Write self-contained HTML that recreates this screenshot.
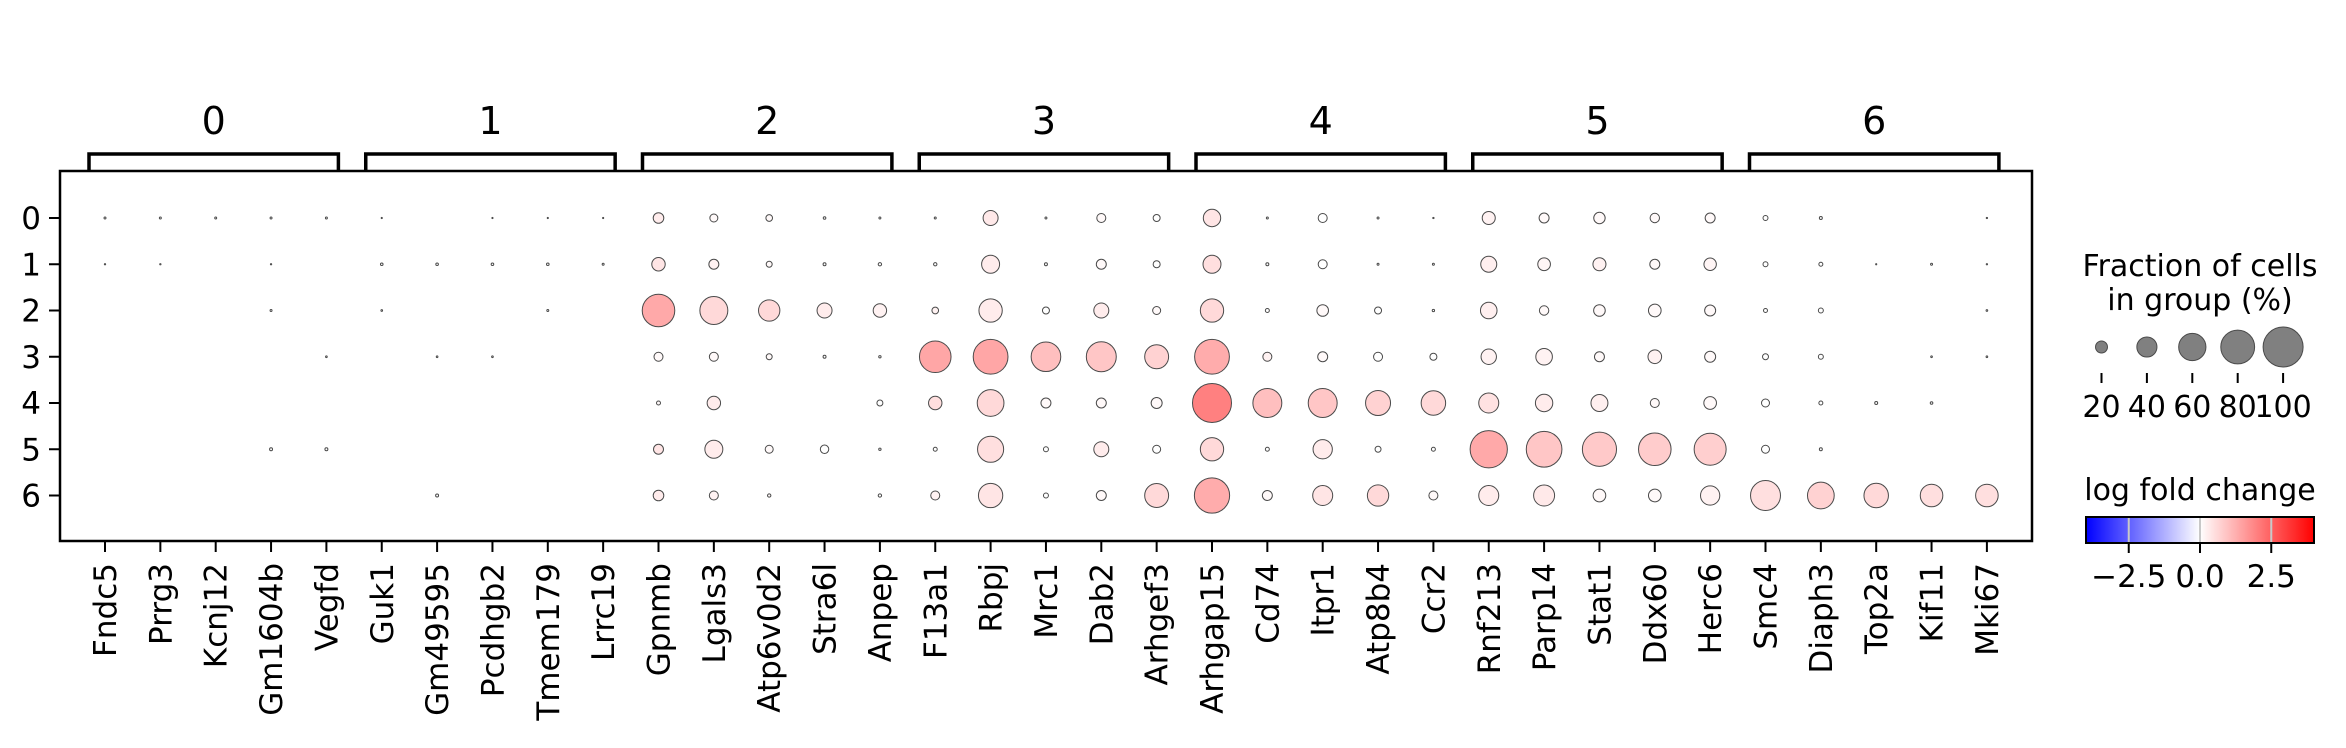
<!DOCTYPE html>
<html><head><meta charset="utf-8">
<style>
html,body{margin:0;padding:0;background:#fff;}
svg{display:block;font-family:"DejaVu Sans","Liberation Sans",sans-serif;}
</style></head>
<body>
<svg id="chart" width="2346" height="748" viewBox="0 0 2346 748" xmlns="http://www.w3.org/2000/svg">
  <defs>
    <linearGradient id="bwr" x1="0" x2="1" y1="0" y2="0">
      <stop offset="0" stop-color="#0000ff"/>
      <stop offset="0.5" stop-color="#ffffff"/>
      <stop offset="1" stop-color="#ff0000"/>
    </linearGradient>
  </defs>
  <g id="brackets"></g>
  <g id="dots"></g>
  <rect x="60" y="171" width="1972" height="370" fill="none" stroke="#000" stroke-width="2.5"/>
  <g id="yaxis"></g>
  <g id="xaxis"></g>
  <g id="size-legend">
    <text x="2200" y="276" font-size="30" text-anchor="middle">Fraction of cells</text>
    <text x="2200" y="310" font-size="30" text-anchor="middle">in group (%)</text>
  </g>
  <g id="color-legend">
    <text x="2200" y="500" font-size="30" text-anchor="middle">log fold change</text>
    <rect x="2086" y="517" width="228" height="26" fill="url(#bwr)" stroke="#000" stroke-width="2"/>
  </g>
</svg>
<script>
const genes = ["Fndc5","Prrg3","Kcnj12","Gm1604b","Vegfd","Guk1","Gm49595","Pcdhgb2","Tmem179","Lrrc19","Gpnmb","Lgals3","Atp6v0d2","Stra6l","Anpep","F13a1","Rbpj","Mrc1","Dab2","Arhgef3","Arhgap15","Cd74","Itpr1","Atp8b4","Ccr2","Rnf213","Parp14","Stat1","Ddx60","Herc6","Smc4","Diaph3","Top2a","Kif11","Mki67"];
const groups = ["0","1","2","3","4","5","6"];
const fraction = [
 [1.8,1.1,0,0,0,0,0],[1.8,1.1,0,0,0,0,0],[1.8,0,0,0,0,0,0],[1.8,1.1,1.8,0,0,3.1,0],[1.8,0,0,1.4,0,3.1,0],
 [0.9,2.6,1.4,0,0,0,0],[0,2.6,0,1.4,0,0,3.1],[0.9,2.6,0,1.4,0,0,0],[0.9,2.6,1.8,0,0,0,0],[0.9,1.8,0,0,0,0,0],
 [17,23.3,76,13.7,4.6,15.7,17],[11.7,15.7,62,13.7,23.3,34.4,13.7],[9.1,7.9,43.3,7.9,0,11.7,3.7],[2.6,3.1,27,3.1,0,12.5,0],[1.8,3.7,23.3,2.3,7.9,2.3,3.7],
 [1.8,3.7,9.1,73,23.3,4.6,13.7],[27,34.4,48.7,83,58.4,56.6,51.5],[1.8,3.1,9.8,67,15.7,6.2,6.2],[13.7,15.7,27,68,15.7,27,15.7],[9.8,9.8,11.7,50.4,17.9,11.7,50.4],
 [32.9,34.4,48.7,83,96.7,48.7,84.5],[1.8,3.1,4.6,13.7,65,4.6,15.7],[13.7,13.7,19.2,15.7,65,37.8,39.7],[1.8,1.8,9.8,13.7,53.4,7.9,43.3],[1.1,1.8,2.3,9.8,52,4.6,13.7],
 [22.4,29.5,30.9,28,39.7,91,39.7],[15.7,21.5,14.5,30.9,32.9,85.8,42.3],[18.8,22.4,19.2,15.7,31.9,81,21.5],[14.5,15.7,21.5,23.8,13.7,76,21.5],[15.7,21,17.9,17.9,21.5,74.3,37.8],
 [6.2,6.2,4.6,7.9,11.7,11.7,68],[3.1,4.6,6.2,6.2,4.6,3.1,58.4],[0,0.9,0,0,3.1,0,52],[0,1.8,0,1.4,2.6,0,46.6],[1.1,1.1,1.4,1.4,0,0,46.6]
];
const logfc = [
 [0,0,0,0,0,0,0],[0,0,0,0,0,0,0],[0,0,0,0,0,0,0],[0,0,0,0,0,0,0],[0,0,0,0,0,0,0],
 [0,0,0,0,0,0,0],[0,0,0,0,0,0,0],[0,0,0,0,0,0,0],[0,0,0,0,0,0,0],[0,0,0,0,0,0,0],
 [0.3,0.4,1.35,0.1,0.1,0.4,0.3],[0.1,0.2,0.6,0.1,0.3,0.3,0.2],[0.1,0.1,0.6,0.1,0,0.1,0.1],[0,0,0.3,0,0,0,0],[0,0,0.2,0,0,0,0],
 [0,0,0.2,1.4,0.5,0,0.2],[0.35,0.3,0.3,1.4,0.6,0.5,0.4],[0,0,0,1.0,0.1,0,0],[0.1,0.1,0.3,0.9,0.1,0.3,0.1],[0,0,0.1,0.7,0.1,0,0.6],
 [0.4,0.5,0.6,1.3,2.0,0.6,1.3],[0,0,0,0.2,1.0,0,0.1],[0,0,0.1,0.1,0.9,0.3,0.4],[0,0,0,0,0.7,0,0.6],[0,0,0,0,0.6,0,0.1],
 [0.2,0.25,0.25,0.2,0.45,1.35,0.3],[0.1,0.15,0.1,0.2,0.3,0.9,0.35],[0.1,0.2,0.1,0.1,0.25,0.85,0.1],[0.1,0.1,0.1,0.2,0.1,0.8,0.1],[0.1,0.15,0.1,0.1,0.1,0.75,0.2],
 [0,0,0,0,0,0,0.5],[0,0,0,0,0,0,0.7],[0,0,0,0,0,0,0.6],[0,0,0,0,0,0,0.5],[0,0,0,0,0,0,0.5]
];
const sizeTicks = [20,40,60,80,100];
const colorTicks = [-2.5,0,2.5];
const colorTickLabels = ["\u22122.5","0.0","2.5"];

const NS="http://www.w3.org/2000/svg";
const X0=105, DX=55.35, Y0=218, DY=46.25;
const xPos=i=>X0+DX*i;
const yPos=j=>Y0+DY*j;
const rad=f=>20*Math.pow(f/100,0.75);
const VMIN=-4,VMAX=4;
function color(v){
  let t=(v-VMIN)/(VMAX-VMIN); t=Math.max(0,Math.min(1,t));
  let r,g,b;
  if(t<0.5){const s=t/0.5; r=255*s; g=255*s; b=255;}
  else{const s=(t-0.5)/0.5; r=255; g=255*(1-s); b=255*(1-s);}
  return `rgb(${Math.round(r)},${Math.round(g)},${Math.round(b)})`;
}
function mk(tag,attrs,parent,text){
  const e=document.createElementNS(NS,tag);
  for(const k in attrs)e.setAttribute(k,attrs[k]);
  if(text!==undefined)e.textContent=text;
  parent.appendChild(e);return e;
}
const cbX=v=>2086+228*(v-VMIN)/(VMAX-VMIN);

const dg=document.getElementById('dots');
genes.forEach((g,i)=>{
  groups.forEach((gr,j)=>{
    const f=fraction[i][j]; if(!(f>0))return;
    const c=mk('circle',{cx:xPos(i),cy:yPos(j),r:rad(f),fill:color(logfc[i][j]),stroke:'#4a4a4a','stroke-width':1},dg);
    
    
  });
});

const bg=document.getElementById('brackets');
const nG=7;
for(let k=0;k<nG;k++){
  const a=xPos(k*5)-16, b=xPos(k*5+4)+12;
  const p=mk('path',{d:`M${a},171 L${a},154 L${b},154 L${b},171`,fill:'none',stroke:'#000','stroke-width':3.5},bg);
  
  
  const t=mk('text',{x:(a+b)/2,y:134,'font-size':38,'text-anchor':'middle'},bg,String(k));
  
  
}

const ya=document.getElementById('yaxis');
groups.forEach((gr,j)=>{
  const l=mk('line',{x1:49,x2:60,y1:yPos(j),y2:yPos(j),stroke:'#000','stroke-width':2},ya);
  
  
  const t=mk('text',{x:41,y:yPos(j)+11,'font-size':31,'text-anchor':'end'},ya,gr);
  
  
});

const xa=document.getElementById('xaxis');
genes.forEach((g,i)=>{
  const x=xPos(i);
  const l=mk('line',{x1:x,x2:x,y1:541,y2:552,stroke:'#000','stroke-width':2},xa);
  
  
  const t=mk('text',{x:0,y:0,'font-size':31,'text-anchor':'end',transform:`translate(${x+11},563) rotate(-90)`},xa,g);
  
  
});

const sl=document.getElementById('size-legend');
const sx0=2101.5, sdx=45.4;
sizeTicks.forEach((v,k)=>{
  const x=sx0+sdx*k;
  const c=mk('circle',{cx:x,cy:347,r:rad(v),fill:'#808080',stroke:'#4a4a4a','stroke-width':1},sl);
  
  
  const l=mk('line',{x1:x,x2:x,y1:373,y2:383,stroke:'#000','stroke-width':2},sl);
  
  
  const t=mk('text',{x:x,y:417,'font-size':30,'text-anchor':'middle'},sl,String(v));
  
  
});

const cl=document.getElementById('color-legend');
colorTicks.forEach((v,k)=>{
  const x=cbX(v);
  const g=mk('line',{x1:x,x2:x,y1:518,y2:542,stroke:'#c8c8c8','stroke-width':2},cl);
  
  
  const l=mk('line',{x1:x,x2:x,y1:543,y2:553,stroke:'#000','stroke-width':2},cl);
  
  
  const t=mk('text',{x:x,y:587,'font-size':31,'text-anchor':'middle'},cl,colorTickLabels[k]);
  
  
});
</script>
</body></html>
